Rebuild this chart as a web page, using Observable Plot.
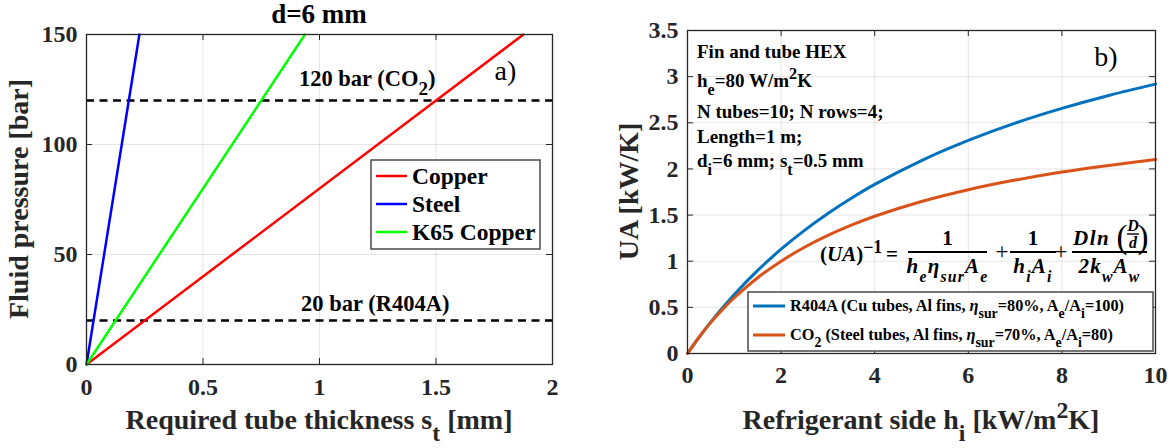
<!DOCTYPE html>
<html>
<head>
<meta charset="utf-8">
<script src="https://cdn.jsdelivr.net/npm/d3@7"></script>
<script src="https://cdn.jsdelivr.net/npm/@observablehq/plot@0.6"></script>
<style>
  html, body { margin: 0; padding: 0; background: #fff; }
  #wrap { position: relative; width: 1176px; height: 448px; background: #fff; }
  #pa { position: absolute; left: 0; top: 0; }
  #pb { position: absolute; left: 590px; top: 0; }
</style>
</head>
<body>
<div id="wrap"><div id="pa"></div><div id="pb"></div></div>
<script>
// ---------- Panel a) data ----------
const materials = ["Copper", "Steel", "K65 Copper"];
const materialColors = ["#FF0000", "#0000FF", "#00FF00"];
const copperThickness = [0, 1.875];
const copperPressure = [0, 150];
const steelThickness = [0, 0.227];
const steelPressure = [0, 150];
const k65Thickness = [0, 0.9375];
const k65Pressure = [0, 150];
const refPressures = [120, 20];
const refLabels = ["120 bar (CO_{2})", "20 bar (R404A)"];
const refLabelX = [0.914, 0.923];
const refLabelY = [126.5, 24];
const xTicksA = [0, 0.5, 1, 1.5, 2];
const xTickLabelsA = ["0", "0.5", "1", "1.5", "2"];
const yTicksA = [0, 50, 100, 150];
const yTickLabelsA = ["0", "50", "100", "150"];

// ---------- Panel b) data ----------
const seriesB = ["R404A", "CO2"];
const seriesBLabels = [
  "R404A (Cu tubes, Al fins, ~{η}_{sur}=80%, A_{e}/A_{i}=100)",
  "CO_{2} (Steel tubes, Al fins, ~{η}_{sur}=70%, A_{e}/A_{i}=80)"
];
const seriesBColors = ["#0072BD", "#D95319"];
const hRefrigerant = [0, 0.25, 0.5, 0.75, 1, 1.5, 2, 2.5, 3, 3.5, 4, 5, 6, 7, 8, 9, 10];
const uaR404A = [0, 0.178, 0.343, 0.496, 0.640, 0.900, 1.130, 1.334, 1.517, 1.682, 1.832, 2.091, 2.309, 2.496, 2.656, 2.796, 2.919];
const uaCO2 = [0, 0.179, 0.337, 0.478, 0.604, 0.821, 1.000, 1.151, 1.279, 1.390, 1.487, 1.647, 1.775, 1.879, 1.966, 2.038, 2.101];
const xTicksB = [0, 2, 4, 6, 8, 10];
const xTickLabelsB = ["0", "2", "4", "6", "8", "10"];
const yTicksB = [0, 0.5, 1, 1.5, 2, 2.5, 3, 3.5];
const yTickLabelsB = ["0", "0.5", "1", "1.5", "2", "2.5", "3", "3.5"];
const infoLines = ["Fin and tube HEX", "h_{e}=80 W/m^{2}K", "N tubes=10; N rows=4;", "Length=1 m;", "d_{i}=6 mm; s_{t}=0.5 mm"];

// ---------- helpers ----------
const FONT = "Liberation Serif, DejaVu Serif, Noto Serif, Times New Roman, Times, serif";
const INK = "#262626";

function rich(parent, str, x, y, opts = {}) {
  const fs = opts.size || 20;
  const t = parent.append("text")
    .attr("x", x).attr("y", y)
    .style("font-family", opts.family || FONT)
    .attr("font-size", fs)
    .attr("font-weight", opts.weight || "bold")
    .attr("font-style", opts.style || "normal")
    .attr("fill", opts.fill || INK)
    .attr("text-anchor", opts.anchor || "start");
  if (opts.spacing) t.attr("letter-spacing", opts.spacing);
  if (opts.transform) t.attr("transform", opts.transform);
  const re = /([_^~])\{([^}]*)\}/g;
  let last = 0, m, shift = 0;
  const add = (txt, kind) => {
    if (!txt) return;
    const ts = t.append("tspan").text(txt);
    const target = kind === "_" ? 0.42 * fs : kind === "^" ? -0.4 * fs : 0;
    if (target - shift !== 0) ts.attr("dy", target - shift);
    shift = target;
    if (kind === "_" || kind === "^") ts.attr("font-size", (opts.subScale || 0.85) * fs);
    if (kind === "~") ts.attr("font-style", "italic");
  };
  while ((m = re.exec(str)) !== null) {
    add(str.slice(last, m.index), null);
    add(m[2], m[1]);
    last = re.lastIndex;
  }
  add(str.slice(last), null);
  return t;
}

function insideTicks(xv, yv, plotW, plotH) {
  return [
    Plot.tickX(xv, {x: d => d, insetTop: plotH - 6, stroke: INK}),
    Plot.tickX(xv, {x: d => d, insetBottom: plotH - 6, stroke: INK}),
    Plot.tickY(yv, {y: d => d, insetRight: plotW - 6, stroke: INK}),
    Plot.tickY(yv, {y: d => d, insetLeft: plotW - 6, stroke: INK})
  ];
}

// ---------- Panel a ----------
const rowsA = [];
[[copperThickness, copperPressure], [steelThickness, steelPressure], [k65Thickness, k65Pressure]]
  .forEach(([xs, ys], k) => xs.forEach((v, i) => rowsA.push({material: materials[k], st: v, p: ys[i]})));

const WA = 590, HA = 448, mlA = 86, mrA = 38, mtA = 34, mbA = 84;
const pwA = WA - mlA - mrA, phA = HA - mtA - mbA;

const plotA = Plot.plot({
  width: WA, height: HA,
  marginLeft: mlA, marginRight: mrA, marginTop: mtA, marginBottom: mbA,
  style: {fontFamily: FONT, fontSize: "24px", fontWeight: "bold", color: INK, background: "#fff", overflow: "visible"},
  x: {domain: [0, 2], label: null},
  y: {domain: [0, 150], label: null},
  color: {domain: materials, range: materialColors},
  marks: [
    Plot.gridX(xTicksA.slice(1, -1), {stroke: "#000", strokeOpacity: 0.1}),
    Plot.gridY(yTicksA.slice(1, -1), {stroke: "#000", strokeOpacity: 0.1}),
    Plot.ruleY(refPressures, {stroke: "#000", strokeWidth: 2.5, strokeDasharray: "8,5.5"}),
    Plot.line(rowsA, {x: "st", y: "p", z: "material", stroke: "material", strokeWidth: 2.5}),
    ...insideTicks(xTicksA, yTicksA, pwA, phA),
    Plot.axisX(xTicksA, {tickSize: 0, tickPadding: 13, tickFormat: (d, i) => xTickLabelsA[i], fill: INK, fontSize: 24, fontWeight: "bold", fontFamily: FONT, label: null}),
    Plot.axisY(yTicksA, {tickSize: 0, tickPadding: 9, tickFormat: (d, i) => yTickLabelsA[i], fill: INK, fontSize: 24, fontWeight: "bold", fontFamily: FONT, label: null}),
    Plot.frame({stroke: INK, strokeWidth: 1.3})
  ]
});
document.getElementById("pa").append(plotA);
{
  const svg = d3.select(plotA);
  const X = plotA.scale("x"), Y = plotA.scale("y");
  rich(svg, "d=6 mm", mlA + pwA / 2, 23, {size: 27, anchor: "middle", fill: "#000"});
  rich(svg, "Required tube thickness s_{t} [mm]", mlA + pwA / 2, 429, {size: 28, anchor: "middle"});
  rich(svg, "Fluid pressure [bar]", 0, 0, {size: 28, anchor: "middle", transform: `translate(28,${mtA + phA / 2}) rotate(-90)`});
  refLabels.forEach((s, i) => rich(svg, s, X.apply(refLabelX[i]), Y.apply(refLabelY[i]), {size: 22.5, fill: "#000"}));
  rich(svg, "a)", X.apply(1.8), Y.apply(129), {size: 28, weight: "normal", fill: "#000", anchor: "middle"});
  // legend
  const g = svg.append("g");
  g.append("rect").attr("x", 371).attr("y", 160).attr("width", 169).attr("height", 89)
    .attr("fill", "#fff").attr("stroke", "#4a4a4a").attr("stroke-width", 1.5);
  materials.forEach((m, i) => {
    const yy = 176 + i * 28;
    g.append("line").attr("x1", 376).attr("x2", 407).attr("y1", yy).attr("y2", yy)
      .attr("stroke", materialColors[i]).attr("stroke-width", 2.5);
    rich(g, m, 412, yy + 8, {size: 23.5, fill: "#000"});
  });
}

// ---------- Panel b ----------
const rowsB = [];
hRefrigerant.forEach((h, i) => {
  rowsB.push({series: seriesB[0], h, ua: uaR404A[i]});
});
hRefrigerant.forEach((h, i) => {
  rowsB.push({series: seriesB[1], h, ua: uaCO2[i]});
});

const WB = 586, HB = 448, mlB = 97, mrB = 21, mtB = 30, mbB = 95;
const pwB = WB - mlB - mrB, phB = HB - mtB - mbB;

const plotB = Plot.plot({
  width: WB, height: HB,
  marginLeft: mlB, marginRight: mrB, marginTop: mtB, marginBottom: mbB,
  style: {fontFamily: FONT, fontSize: "24px", fontWeight: "bold", color: INK, background: "#fff", overflow: "visible"},
  x: {domain: [0, 10], label: null},
  y: {domain: [0, 3.5], label: null},
  color: {domain: seriesB, range: seriesBColors},
  marks: [
    Plot.gridX(xTicksB.slice(1, -1), {stroke: "#000", strokeOpacity: 0.1}),
    Plot.gridY(yTicksB.slice(1, -1), {stroke: "#000", strokeOpacity: 0.1}),
    Plot.line(rowsB, {x: "h", y: "ua", z: "series", stroke: "series", strokeWidth: 3, curve: "catmull-rom"}),
    ...insideTicks(xTicksB, yTicksB, pwB, phB),
    Plot.axisX(xTicksB, {tickSize: 0, tickPadding: 12, tickFormat: (d, i) => xTickLabelsB[i], fill: INK, fontSize: 24, fontWeight: "bold", fontFamily: FONT, label: null}),
    Plot.axisY(yTicksB, {tickSize: 0, tickPadding: 9, tickFormat: (d, i) => yTickLabelsB[i], fill: INK, fontSize: 24, fontWeight: "bold", fontFamily: FONT, label: null}),
    Plot.frame({stroke: INK, strokeWidth: 1.3})
  ]
});
document.getElementById("pb").append(plotB);
{
  const svg = d3.select(plotB);
  const X = plotB.scale("x"), Y = plotB.scale("y");
  rich(svg, "Refrigerant side h_{i} [kW/m^{2}K]", mlB + pwB / 2, 429, {size: 28, anchor: "middle"});
  rich(svg, "UA [kW/K]", 0, 0, {size: 28, anchor: "middle", transform: `translate(48,${mtB + phB / 2}) rotate(-90)`});
  rich(svg, "b)", X.apply(8.95), Y.apply(3.11), {size: 28, weight: "normal", fill: "#000", anchor: "middle"});
  const infoY = [58, 87, 118, 143, 167];
  infoLines.forEach((s, i) => rich(svg, s, 107, infoY[i], {size: 19, fill: "#000"}));

  // equation
  const eq = svg.append("g");
  const EF = 21;
  rich(eq, "(~{UA})^{−1}", 230, 261, {size: EF, fill: "#000"});
  rich(eq, "=", 302, 261, {size: EF, fill: "#000", anchor: "middle"});
  const frac = (x1, x2, num, den) => {
    eq.append("line").attr("x1", x1).attr("x2", x2).attr("y1", 252).attr("y2", 252).attr("stroke", "#000").attr("stroke-width", 1.8);
    if (num) rich(eq, num, (x1 + x2) / 2, 245, {size: EF, fill: "#000", anchor: "middle"});
    rich(eq, den, (x1 + x2) / 2, 273, {size: EF, fill: "#000", anchor: "middle", style: "italic", subScale: 0.75, spacing: 1.2});
  };
  frac(318, 397, "1", "h_{e}η_{sur}A_{e}");
  rich(eq, "+", 412, 259, {size: EF + 2, fill: "#000", anchor: "middle", weight: "normal"});
  frac(420, 466, "1", "h_{i}A_{i}");
  rich(eq, "+", 471, 259, {size: EF + 2, fill: "#000", anchor: "middle", weight: "normal"});
  frac(482, 557, null, "2k_{w}A_{w}");
  rich(eq, "Dln", 483, 245, {size: EF, fill: "#000", style: "italic", spacing: 1.5});
  rich(eq, "(", 532, 248, {size: 33, fill: "#000", anchor: "middle", weight: "normal"});
  rich(eq, ")", 553, 248, {size: 33, fill: "#000", anchor: "middle", weight: "normal"});
  eq.append("line").attr("x1", 537).attr("x2", 549).attr("y1", 234).attr("y2", 234).attr("stroke", "#000").attr("stroke-width", 1.4);
  rich(eq, "D", 543, 231, {size: 16, fill: "#000", anchor: "middle", style: "italic"});
  rich(eq, "d", 543, 248, {size: 16, fill: "#000", anchor: "middle", style: "italic"});

  // legend
  const g = svg.append("g");
  g.append("rect").attr("x", 158).attr("y", 292).attr("width", 405).attr("height", 59)
    .attr("fill", "#fff").attr("stroke", "#4a4a4a").attr("stroke-width", 1.5);
  seriesBLabels.forEach((s, i) => {
    const yy = 306 + i * 29;
    g.append("line").attr("x1", 163).attr("x2", 195).attr("y1", yy).attr("y2", yy)
      .attr("stroke", seriesBColors[i]).attr("stroke-width", 3);
    rich(g, s, 200, yy + 5, {size: 16.3, fill: "#000"});
  });
}
</script>
</body>
</html>
